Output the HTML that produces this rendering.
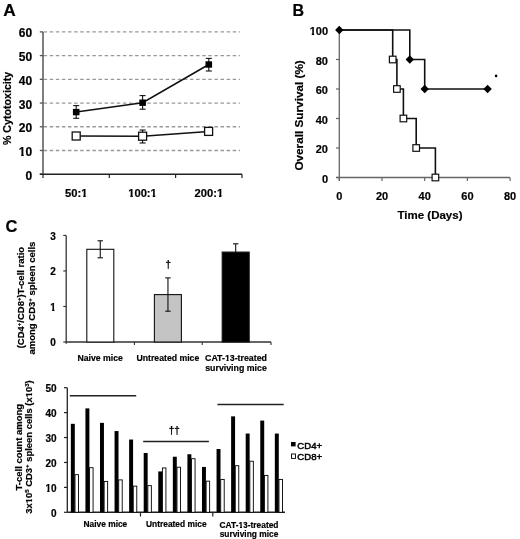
<!DOCTYPE html>
<html><head><meta charset="utf-8"><style>
html,body{margin:0;padding:0;background:#fff;}
svg{display:block;filter:blur(0.3px);}
text{font-family:"Liberation Sans",sans-serif;fill:#000;stroke:#000;stroke-width:0.2px;}
</style></head><body>
<svg width="520" height="539" viewBox="0 0 520 539" font-family="Liberation Sans, sans-serif">
<text x="3.2" y="16.4" font-size="17.3" font-weight="bold" text-anchor="start" >A</text>
<line x1="43" y1="150.48" x2="240" y2="150.48" stroke="#999" stroke-width="1.3" stroke-dasharray="3.5 2.6" stroke-dashoffset="-0.6"/>
<line x1="43" y1="126.75999999999999" x2="240" y2="126.75999999999999" stroke="#999" stroke-width="1.3" stroke-dasharray="3.5 2.6" stroke-dashoffset="-0.6"/>
<line x1="43" y1="103.03999999999999" x2="240" y2="103.03999999999999" stroke="#999" stroke-width="1.3" stroke-dasharray="3.5 2.6" stroke-dashoffset="-0.6"/>
<line x1="43" y1="79.32" x2="240" y2="79.32" stroke="#999" stroke-width="1.3" stroke-dasharray="3.5 2.6" stroke-dashoffset="-0.6"/>
<line x1="43" y1="55.599999999999994" x2="240" y2="55.599999999999994" stroke="#999" stroke-width="1.3" stroke-dasharray="3.5 2.6" stroke-dashoffset="-0.6"/>
<line x1="43" y1="31.879999999999995" x2="240" y2="31.879999999999995" stroke="#999" stroke-width="1.3" stroke-dasharray="3.5 2.6" stroke-dashoffset="-0.6"/>
<line x1="39.8" y1="174.2" x2="43" y2="174.2" stroke="#555" stroke-width="1.3" />
<text x="32.2" y="179.7" font-size="12" font-weight="bold" text-anchor="end" >0</text>
<line x1="39.8" y1="150.48" x2="43" y2="150.48" stroke="#555" stroke-width="1.3" />
<text x="32.2" y="155.98" font-size="12" font-weight="bold" text-anchor="end" >10</text>
<line x1="39.8" y1="126.75999999999999" x2="43" y2="126.75999999999999" stroke="#555" stroke-width="1.3" />
<text x="32.2" y="132.26" font-size="12" font-weight="bold" text-anchor="end" >20</text>
<line x1="39.8" y1="103.03999999999999" x2="43" y2="103.03999999999999" stroke="#555" stroke-width="1.3" />
<text x="32.2" y="108.53999999999999" font-size="12" font-weight="bold" text-anchor="end" >30</text>
<line x1="39.8" y1="79.32" x2="43" y2="79.32" stroke="#555" stroke-width="1.3" />
<text x="32.2" y="84.82" font-size="12" font-weight="bold" text-anchor="end" >40</text>
<line x1="39.8" y1="55.599999999999994" x2="43" y2="55.599999999999994" stroke="#555" stroke-width="1.3" />
<text x="32.2" y="61.099999999999994" font-size="12" font-weight="bold" text-anchor="end" >50</text>
<line x1="39.8" y1="31.879999999999995" x2="43" y2="31.879999999999995" stroke="#555" stroke-width="1.3" />
<text x="32.2" y="37.379999999999995" font-size="12" font-weight="bold" text-anchor="end" >60</text>
<line x1="43" y1="31.879999999999995" x2="43" y2="178" stroke="#555" stroke-width="1.5" />
<line x1="39.8" y1="174.2" x2="242" y2="174.2" stroke="#222" stroke-width="1.5" />
<line x1="109.3" y1="174.2" x2="109.3" y2="178" stroke="#222" stroke-width="1.2" />
<line x1="175.6" y1="174.2" x2="175.6" y2="178" stroke="#222" stroke-width="1.2" />
<line x1="242" y1="174.2" x2="242" y2="178" stroke="#222" stroke-width="1.2" />
<text x="76.2" y="197.2" font-size="11.2" font-weight="bold" text-anchor="middle" >50:1</text>
<text x="142.5" y="197.2" font-size="11.2" font-weight="bold" text-anchor="middle" >100:1</text>
<text x="208.8" y="197.2" font-size="11.2" font-weight="bold" text-anchor="middle" >200:1</text>
<text x="0" y="0" font-size="10.65" font-weight="bold" text-anchor="middle" transform="translate(11.1,108.4) rotate(-90)">% Cytotoxicity</text>
<polyline points="76.2,136 142.6,136.2 208.6,131.4" fill="none" stroke="#111" stroke-width="1.5"/>
<polyline points="76.2,112.1 142.6,102.7 208.8,64.5" fill="none" stroke="#111" stroke-width="1.5"/>
<line x1="76.2" y1="105.6" x2="76.2" y2="118.3" stroke="#111" stroke-width="1.1" />
<line x1="73.2" y1="105.6" x2="79.2" y2="105.6" stroke="#111" stroke-width="1.1" />
<line x1="73.2" y1="118.3" x2="79.2" y2="118.3" stroke="#111" stroke-width="1.1" />
<line x1="142.6" y1="95.6" x2="142.6" y2="109.2" stroke="#111" stroke-width="1.1" />
<line x1="139.6" y1="95.6" x2="145.6" y2="95.6" stroke="#111" stroke-width="1.1" />
<line x1="139.6" y1="109.2" x2="145.6" y2="109.2" stroke="#111" stroke-width="1.1" />
<line x1="208.8" y1="58.4" x2="208.8" y2="71" stroke="#111" stroke-width="1.1" />
<line x1="205.8" y1="58.4" x2="211.8" y2="58.4" stroke="#111" stroke-width="1.1" />
<line x1="205.8" y1="71" x2="211.8" y2="71" stroke="#111" stroke-width="1.1" />
<line x1="142.6" y1="130" x2="142.6" y2="143" stroke="#111" stroke-width="1.1" />
<line x1="139.6" y1="130" x2="145.6" y2="130" stroke="#111" stroke-width="1.1" />
<line x1="139.6" y1="143" x2="145.6" y2="143" stroke="#111" stroke-width="1.1" />
<rect x="72.9" y="108.89999999999999" width="6.6" height="6.4" fill="#000"/>
<rect x="139.29999999999998" y="99.5" width="6.6" height="6.4" fill="#000"/>
<rect x="205.5" y="61.3" width="6.6" height="6.4" fill="#000"/>
<rect x="72.2" y="132" width="8" height="8" fill="#fff" stroke="#111" stroke-width="1.3"/>
<rect x="138.6" y="132.2" width="8" height="8" fill="#fff" stroke="#111" stroke-width="1.3"/>
<rect x="204.6" y="127.4" width="8" height="8" fill="#fff" stroke="#111" stroke-width="1.3"/>
<text x="292.5" y="16" font-size="16" font-weight="bold" text-anchor="start" >B</text>
<line x1="339.3" y1="30.0" x2="339.3" y2="181" stroke="#666" stroke-width="1.3" />
<line x1="336" y1="177.5" x2="510" y2="177.5" stroke="#666" stroke-width="1.3" />
<line x1="336" y1="177.5" x2="339.3" y2="177.5" stroke="#666" stroke-width="1.2" />
<text x="328" y="182.5" font-size="11" font-weight="bold" text-anchor="end" >0</text>
<line x1="336" y1="148.0" x2="339.3" y2="148.0" stroke="#666" stroke-width="1.2" />
<text x="328" y="153.0" font-size="11" font-weight="bold" text-anchor="end" >20</text>
<line x1="336" y1="118.5" x2="339.3" y2="118.5" stroke="#666" stroke-width="1.2" />
<text x="328" y="123.5" font-size="11" font-weight="bold" text-anchor="end" >40</text>
<line x1="336" y1="89.0" x2="339.3" y2="89.0" stroke="#666" stroke-width="1.2" />
<text x="328" y="94.0" font-size="11" font-weight="bold" text-anchor="end" >60</text>
<line x1="336" y1="59.5" x2="339.3" y2="59.5" stroke="#666" stroke-width="1.2" />
<text x="328" y="64.5" font-size="11" font-weight="bold" text-anchor="end" >80</text>
<line x1="336" y1="30.0" x2="339.3" y2="30.0" stroke="#666" stroke-width="1.2" />
<text x="328" y="35.0" font-size="11" font-weight="bold" text-anchor="end" >100</text>
<line x1="339.3" y1="177.5" x2="339.3" y2="181" stroke="#666" stroke-width="1.2" />
<text x="339.3" y="200.3" font-size="11" font-weight="bold" text-anchor="middle" >0</text>
<line x1="382.0" y1="177.5" x2="382.0" y2="181" stroke="#666" stroke-width="1.2" />
<text x="382.0" y="200.3" font-size="11" font-weight="bold" text-anchor="middle" >20</text>
<line x1="424.7" y1="177.5" x2="424.7" y2="181" stroke="#666" stroke-width="1.2" />
<text x="424.7" y="200.3" font-size="11" font-weight="bold" text-anchor="middle" >40</text>
<line x1="467.4" y1="177.5" x2="467.4" y2="181" stroke="#666" stroke-width="1.2" />
<text x="467.4" y="200.3" font-size="11" font-weight="bold" text-anchor="middle" >60</text>
<line x1="510.1" y1="177.5" x2="510.1" y2="181" stroke="#666" stroke-width="1.2" />
<text x="510.1" y="200.3" font-size="11" font-weight="bold" text-anchor="middle" >80</text>
<text x="430" y="219" font-size="11.5" font-weight="bold" text-anchor="middle" >Time (Days)</text>
<text x="0" y="0" font-size="11.75" font-weight="bold" text-anchor="middle" transform="translate(302.8,115.4) rotate(-90)">Overall Survival (%)</text>
<polyline points="339.3,30.0 392.7,30.0 392.7,59.5 396.9,59.5 396.9,89.0 403.4,89.0 403.4,118.5 416.2,118.5 416.2,148.0 435.4,148.0 435.4,177.5" fill="none" stroke="#111" stroke-width="1.6"/>
<polyline points="339.3,30.0 409.8,30.0 409.8,59.5 424.7,59.5 424.7,89.0 487.6,89.0" fill="none" stroke="#111" stroke-width="1.6"/>
<polygon points="335.1,30.0 339.3,25.8 343.5,30.0 339.3,34.2" fill="#000"/>
<polygon points="405.6,59.5 409.8,55.3 414.0,59.5 409.8,63.7" fill="#000"/>
<polygon points="420.5,89.0 424.7,84.8 428.9,89.0 424.7,93.2" fill="#000"/>
<polygon points="483.4,89.0 487.6,84.8 491.8,89.0 487.6,93.2" fill="#000"/>
<rect x="389.4" y="56.2" width="6.6" height="6.6" fill="#fff" stroke="#111" stroke-width="1.2"/>
<rect x="393.6" y="85.7" width="6.6" height="6.6" fill="#fff" stroke="#111" stroke-width="1.2"/>
<rect x="400.1" y="115.2" width="6.6" height="6.6" fill="#fff" stroke="#111" stroke-width="1.2"/>
<rect x="412.9" y="144.7" width="6.6" height="6.6" fill="#fff" stroke="#111" stroke-width="1.2"/>
<rect x="432.1" y="174.2" width="6.6" height="6.6" fill="#fff" stroke="#111" stroke-width="1.2"/>
<circle cx="496.1" cy="75.9" r="1.3" fill="#000"/>
<text x="5.5" y="232.3" font-size="16.5" font-weight="bold" text-anchor="start" >C</text>
<line x1="66.2" y1="235.41" x2="66.2" y2="343.8" stroke="#333" stroke-width="1.3" />
<line x1="66.2" y1="342" x2="271" y2="342" stroke="#333" stroke-width="1.3" />
<line x1="63.3" y1="342.0" x2="66.2" y2="342.0" stroke="#333" stroke-width="1.2" />
<text x="55.8" y="346.2" font-size="10" font-weight="bold" text-anchor="end" >0</text>
<line x1="63.3" y1="306.47" x2="66.2" y2="306.47" stroke="#333" stroke-width="1.2" />
<text x="55.8" y="310.67" font-size="10" font-weight="bold" text-anchor="end" >1</text>
<line x1="63.3" y1="270.94" x2="66.2" y2="270.94" stroke="#333" stroke-width="1.2" />
<text x="55.8" y="275.14" font-size="10" font-weight="bold" text-anchor="end" >2</text>
<line x1="63.3" y1="235.41" x2="66.2" y2="235.41" stroke="#333" stroke-width="1.2" />
<text x="55.8" y="239.60999999999999" font-size="10" font-weight="bold" text-anchor="end" >3</text>
<line x1="134.4" y1="342" x2="134.4" y2="345" stroke="#333" stroke-width="1.1" />
<line x1="202.2" y1="342" x2="202.2" y2="345" stroke="#333" stroke-width="1.1" />
<line x1="271" y1="342" x2="271" y2="345" stroke="#333" stroke-width="1.1" />
<rect x="86.8" y="249.3" width="27" height="92.7" fill="#fff" stroke="#111" stroke-width="1.1"/>
<line x1="100.25" y1="240.8" x2="100.25" y2="257.8" stroke="#111" stroke-width="1.1" />
<line x1="97.55" y1="240.8" x2="102.95" y2="240.8" stroke="#111" stroke-width="1.1" />
<line x1="97.55" y1="257.8" x2="102.95" y2="257.8" stroke="#111" stroke-width="1.1" />
<rect x="154.4" y="294.6" width="27" height="47.4" fill="#c4c4c4" stroke="#111" stroke-width="1.1"/>
<line x1="167.95" y1="277.9" x2="167.95" y2="311.2" stroke="#111" stroke-width="1.1" />
<line x1="165.25" y1="277.9" x2="170.64999999999998" y2="277.9" stroke="#111" stroke-width="1.1" />
<line x1="165.25" y1="311.2" x2="170.64999999999998" y2="311.2" stroke="#111" stroke-width="1.1" />
<rect x="222.2" y="252.1" width="27" height="89.9" fill="#000" stroke="#111" stroke-width="1.1"/>
<line x1="235.7" y1="243.8" x2="235.7" y2="252.3" stroke="#111" stroke-width="1.1" />
<line x1="233.0" y1="243.8" x2="238.39999999999998" y2="243.8" stroke="#111" stroke-width="1.1" />
<text x="168.2" y="268" font-size="10" font-weight="bold" text-anchor="middle" >†</text>
<text x="100.2" y="361.1" font-size="8.7" font-weight="bold" text-anchor="middle" >Naive mice</text>
<text x="167.9" y="361.1" font-size="8.7" font-weight="bold" text-anchor="middle" >Untreated mice</text>
<text x="236" y="361.1" font-size="8.8" font-weight="bold" text-anchor="middle" >CAT-13-treated</text>
<text x="236" y="371.2" font-size="8.8" font-weight="bold" text-anchor="middle" >surviving mice</text>
<text font-size="9.5" font-weight="bold" text-anchor="middle" transform="translate(24.4,297.6) rotate(-90)"><tspan x="0" y="0">(CD4<tspan font-size="6" dy="-3">+</tspan><tspan dy="3">/CD8</tspan><tspan font-size="6" dy="-3">+</tspan><tspan dy="3">)T-cell ratio</tspan></tspan></text>
<text font-size="9.5" font-weight="bold" text-anchor="middle" transform="translate(35.0,298.1) rotate(-90)"><tspan x="0" y="0">among CD3<tspan font-size="6" dy="-3">+</tspan><tspan dy="3"> spleen cells</tspan></tspan></text>
<line x1="67.3" y1="387.69999999999993" x2="67.3" y2="512.3" stroke="#222" stroke-width="1.3" />
<line x1="67.3" y1="512.3" x2="285" y2="512.3" stroke="#222" stroke-width="1.6" />
<line x1="64" y1="512.3" x2="67.3" y2="512.3" stroke="#222" stroke-width="1.2" />
<text x="56.5" y="516.5999999999999" font-size="10" font-weight="bold" text-anchor="end" >0</text>
<line x1="64" y1="487.37999999999994" x2="67.3" y2="487.37999999999994" stroke="#222" stroke-width="1.2" />
<text x="56.5" y="491.67999999999995" font-size="10" font-weight="bold" text-anchor="end" >10</text>
<line x1="64" y1="462.4599999999999" x2="67.3" y2="462.4599999999999" stroke="#222" stroke-width="1.2" />
<text x="56.5" y="466.75999999999993" font-size="10" font-weight="bold" text-anchor="end" >20</text>
<line x1="64" y1="437.53999999999996" x2="67.3" y2="437.53999999999996" stroke="#222" stroke-width="1.2" />
<text x="56.5" y="441.84" font-size="10" font-weight="bold" text-anchor="end" >30</text>
<line x1="64" y1="412.61999999999995" x2="67.3" y2="412.61999999999995" stroke="#222" stroke-width="1.2" />
<text x="56.5" y="416.91999999999996" font-size="10" font-weight="bold" text-anchor="end" >40</text>
<line x1="64" y1="387.69999999999993" x2="67.3" y2="387.69999999999993" stroke="#222" stroke-width="1.2" />
<text x="56.5" y="391.99999999999994" font-size="10" font-weight="bold" text-anchor="end" >50</text>
<line x1="140.5" y1="512.3" x2="140.5" y2="516.5" stroke="#222" stroke-width="1.2" />
<line x1="212.8" y1="512.3" x2="212.8" y2="516.5" stroke="#222" stroke-width="1.2" />
<rect x="70.85" y="423.83" width="3.95" height="88.47" fill="#000"/>
<rect x="75.00" y="474.67" width="3.5" height="37.63" fill="#fff" stroke="#000" stroke-width="0.9"/>
<rect x="85.42" y="408.38" width="3.95" height="103.92" fill="#000"/>
<rect x="89.57" y="467.69" width="3.5" height="44.61" fill="#fff" stroke="#000" stroke-width="0.9"/>
<rect x="99.99" y="422.84" width="3.95" height="89.46" fill="#000"/>
<rect x="104.14" y="481.40" width="3.5" height="30.90" fill="#fff" stroke="#000" stroke-width="0.9"/>
<rect x="114.56" y="431.06" width="3.95" height="81.24" fill="#000"/>
<rect x="118.71" y="479.90" width="3.5" height="32.40" fill="#fff" stroke="#000" stroke-width="0.9"/>
<rect x="129.13" y="439.53" width="3.95" height="72.77" fill="#000"/>
<rect x="133.28" y="486.13" width="3.5" height="26.17" fill="#fff" stroke="#000" stroke-width="0.9"/>
<rect x="143.70" y="452.99" width="3.95" height="59.31" fill="#000"/>
<rect x="147.85" y="485.64" width="3.5" height="26.66" fill="#fff" stroke="#000" stroke-width="0.9"/>
<rect x="158.27" y="471.43" width="3.95" height="40.87" fill="#000"/>
<rect x="162.42" y="467.94" width="3.5" height="44.36" fill="#fff" stroke="#000" stroke-width="0.9"/>
<rect x="172.84" y="456.73" width="3.95" height="55.57" fill="#000"/>
<rect x="176.99" y="467.19" width="3.5" height="45.11" fill="#fff" stroke="#000" stroke-width="0.9"/>
<rect x="187.41" y="454.24" width="3.95" height="58.06" fill="#000"/>
<rect x="191.56" y="458.72" width="3.5" height="53.58" fill="#fff" stroke="#000" stroke-width="0.9"/>
<rect x="201.98" y="466.95" width="3.95" height="45.35" fill="#000"/>
<rect x="206.13" y="481.15" width="3.5" height="31.15" fill="#fff" stroke="#000" stroke-width="0.9"/>
<rect x="216.55" y="449.00" width="3.95" height="63.30" fill="#000"/>
<rect x="220.70" y="479.41" width="3.5" height="32.89" fill="#fff" stroke="#000" stroke-width="0.9"/>
<rect x="231.12" y="416.36" width="3.95" height="95.94" fill="#000"/>
<rect x="235.27" y="465.70" width="3.5" height="46.60" fill="#fff" stroke="#000" stroke-width="0.9"/>
<rect x="245.69" y="433.55" width="3.95" height="78.75" fill="#000"/>
<rect x="249.84" y="461.21" width="3.5" height="51.09" fill="#fff" stroke="#000" stroke-width="0.9"/>
<rect x="260.26" y="420.59" width="3.95" height="91.71" fill="#000"/>
<rect x="264.41" y="475.42" width="3.5" height="36.88" fill="#fff" stroke="#000" stroke-width="0.9"/>
<rect x="274.83" y="433.55" width="3.95" height="78.75" fill="#000"/>
<rect x="278.98" y="479.41" width="3.5" height="32.89" fill="#fff" stroke="#000" stroke-width="0.9"/>
<line x1="69.8" y1="395.8" x2="136.2" y2="395.8" stroke="#222" stroke-width="1.5" />
<line x1="143.2" y1="441.4" x2="208.9" y2="441.4" stroke="#222" stroke-width="1.5" />
<line x1="217.4" y1="404.6" x2="283.7" y2="404.6" stroke="#222" stroke-width="1.5" />
<text x="174.3" y="434" font-size="10" font-weight="bold" text-anchor="middle" >††</text>
<text x="105.4" y="527.3" font-size="8.4" font-weight="bold" text-anchor="middle" >Naive mice</text>
<text x="176.3" y="527.2" font-size="8.4" font-weight="bold" text-anchor="middle" >Untreated mice</text>
<text x="249" y="527.6" font-size="8.4" font-weight="bold" text-anchor="middle" >CAT-13-treated</text>
<text x="249" y="537.3" font-size="8.4" font-weight="bold" text-anchor="middle" >surviving mice</text>
<rect x="291" y="442" width="4.6" height="4.4" fill="#000"/>
<rect x="291.5" y="454" width="4" height="4.4" fill="#fff" stroke="#000" stroke-width="0.9"/>
<text x="297.3" y="448.7" font-size="9.6" font-weight="normal" text-anchor="start" style="stroke-width:0.5px">CD4+</text>
<text x="297.3" y="460.3" font-size="9.6" font-weight="normal" text-anchor="start" style="stroke-width:0.5px">CD8+</text>
<text font-size="9.5" font-weight="bold" text-anchor="middle" transform="translate(21.5,447.2) rotate(-90)"><tspan x="0" y="0">T-cell count among</tspan></text>
<text font-size="9.45" font-weight="bold" text-anchor="middle" transform="translate(32.3,447) rotate(-90)"><tspan x="0" y="0">3x10<tspan font-size="6" dy="-3">5</tspan><tspan dy="3"> CD3</tspan><tspan font-size="6" dy="-3">+</tspan><tspan dy="3"> spleen cells (x10</tspan><tspan font-size="6" dy="-3">3</tspan><tspan dy="3">)</tspan></tspan></text>
<g><polygon points="19.00,156.58 21.19,156.58 21.19,153.86 19.00,153.86" fill="#fff"/><polygon points="23.74,156.58 25.78,156.58 25.78,153.86 23.74,153.86" fill="#fff"/><polygon points="81.26,197.80 83.32,197.80 83.32,195.16 81.26,195.16" fill="#fff"/><polygon points="85.75,197.80 87.67,197.80 87.67,195.16 85.75,195.16" fill="#fff"/><polygon points="128.29,197.80 130.35,197.80 130.35,195.16 128.29,195.16" fill="#fff"/><polygon points="132.79,197.80 134.70,197.80 134.70,195.16 132.79,195.16" fill="#fff"/><polygon points="150.68,197.80 152.74,197.80 152.74,195.16 150.68,195.16" fill="#fff"/><polygon points="155.18,197.80 157.10,197.80 157.10,195.16 155.18,195.16" fill="#fff"/><polygon points="216.98,197.80 219.04,197.80 219.04,195.16 216.98,195.16" fill="#fff"/><polygon points="221.48,197.80 223.40,197.80 223.40,195.16 221.48,195.16" fill="#fff"/><polygon points="309.73,35.60 311.76,35.60 311.76,32.98 309.73,32.98" fill="#fff"/><polygon points="314.17,35.60 316.05,35.60 316.05,32.98 314.17,32.98" fill="#fff"/><polygon points="50.27,311.27 52.12,311.27 52.12,308.75 50.27,308.75" fill="#fff"/><polygon points="54.39,311.27 56.12,311.27 56.12,308.75 54.39,308.75" fill="#fff"/><polygon points="224.85,361.70 226.50,361.70 226.50,359.30 224.85,359.30" fill="#fff"/><polygon points="228.61,361.70 230.15,361.70 230.15,359.30 228.61,359.30" fill="#fff"/><polygon points="45.40,492.28 47.26,492.28 47.26,489.76 45.40,489.76" fill="#fff"/><polygon points="49.53,492.28 51.26,492.28 51.26,489.76 49.53,489.76" fill="#fff"/><polygon points="238.36,528.20 239.94,528.20 239.94,525.84 238.36,525.84" fill="#fff"/><polygon points="241.99,528.20 243.47,528.20 243.47,525.84 241.99,525.84" fill="#fff"/><polygon points="32.90,503.29 32.90,501.53 30.44,501.53 30.44,503.29" fill="#fff"/><polygon points="32.90,499.33 32.90,497.69 30.44,497.69 30.44,499.33" fill="#fff"/><polygon points="32.90,397.25 32.90,395.49 30.44,395.49 30.44,397.25" fill="#fff"/><polygon points="32.90,393.30 32.90,391.66 30.44,391.66 30.44,393.30" fill="#fff"/></g>
</svg>
</body></html>
